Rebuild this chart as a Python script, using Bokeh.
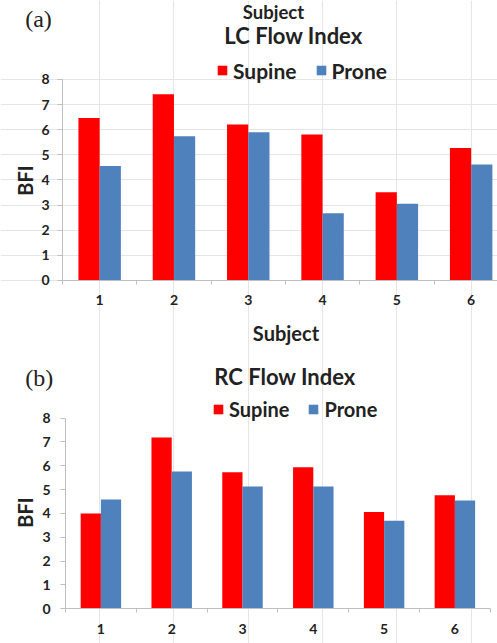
import math
from bokeh.plotting import figure
from bokeh.models import (ColumnDataSource, Range1d, FixedTicker, Label, Legend, LegendItem,
                          LinearAxis)
from bokeh.transform import dodge
from bokeh.embed import file_html
from bokeh.resources import INLINE

# ---------------- data ----------------
subjects = [1, 2, 3, 4, 5, 6]
subject_labels = ["1", "2", "3", "4", "5", "6"]
lc_supine = [6.47, 7.41, 6.21, 5.81, 3.51, 5.27]
lc_prone = [4.56, 5.74, 5.90, 2.68, 3.05, 4.62]
rc_supine = [4.00, 7.19, 5.73, 5.94, 4.06, 4.77]
rc_prone = [4.59, 5.76, 5.13, 5.13, 3.69, 4.55]
y_ticks = [0, 1, 2, 3, 4, 5, 6, 7, 8]
series_names = ["Supine", "Prone"]
series_colors = ["#FF0000", "#4F81BD"]

FONT = "Lato"
AXIS_GRAY = "#BFBFBF"
TEXT = "#222222"
BAR_W = 2 / 7

# One canvas holding both panels; panel (a) uses the default ranges,
# panel (b) uses the extra ranges named "b".
p = figure(width=497, height=643, output_backend="svg", toolbar_location=None,
           x_range=Range1d(-0.3345, 6.3546), y_range=Range1d(-14.448, 11.144),
           x_axis_location=None, y_axis_location=None,
           min_border=0, min_border_top=0, min_border_right=0,
           min_border_bottom=0, min_border_left=0)
p.extra_x_ranges = {"b": Range1d(-0.4181, 6.6017)}
p.extra_y_ranges = {"b": Range1d(-1.456, 25.527)}
p.outline_line_color = None
p.background_fill_color = "white"
p.border_fill_color = "white"


def add_panel(rn, supine, prone, tag, tag_pos, title, title_pos, ylabel_pos,
              legend_loc, legend_font, ytick_standoff, xtick_standoff,
              xlabel=None, xlabel_pos=None, extra=None):
    kw = {} if rn == "default" else dict(x_range_name=rn, y_range_name=rn)
    src = ColumnDataSource(dict(x=subjects, supine=supine, prone=prone))
    r1 = p.vbar(x=dodge("x", -BAR_W / 2), top="supine", width=BAR_W, source=src,
                fill_color=series_colors[0], line_color=None, **kw)
    r2 = p.vbar(x=dodge("x", BAR_W / 2), top="prone", width=BAR_W, source=src,
                fill_color=series_colors[1], line_color=None, **kw)

    ya = LinearAxis(fixed_location=subjects[0] - 0.5, bounds=(y_ticks[0], y_ticks[-1]), **kw)
    ya.ticker = FixedTicker(ticks=y_ticks, minor_ticks=[])
    ya.axis_line_color = AXIS_GRAY
    ya.major_tick_line_color = AXIS_GRAY
    ya.major_tick_out = 5
    ya.major_tick_in = 0
    ya.minor_tick_line_color = None
    ya.major_label_text_font = FONT
    ya.major_label_text_font_style = "bold"
    ya.major_label_text_font_size = "14px"
    ya.major_label_text_color = TEXT
    ya.major_label_standoff = ytick_standoff
    p.add_layout(ya, "left")

    xa = LinearAxis(fixed_location=y_ticks[0],
                    bounds=(subjects[0] - 0.5, subjects[-1] + 0.5), **kw)
    xa.ticker = FixedTicker(ticks=subjects,
                            minor_ticks=[s - 0.5 for s in subjects] + [subjects[-1] + 0.5])
    xa.major_label_overrides = {s: l for s, l in zip(subjects, subject_labels)}
    xa.axis_line_color = AXIS_GRAY
    xa.major_tick_line_color = None
    xa.major_tick_out = 0
    xa.major_tick_in = 0
    xa.minor_tick_line_color = AXIS_GRAY
    xa.minor_tick_out = 4
    xa.minor_tick_in = 0
    xa.major_label_text_font = FONT
    xa.major_label_text_font_style = "bold"
    xa.major_label_text_font_size = "14px"
    xa.major_label_text_color = TEXT
    xa.major_label_standoff = xtick_standoff
    p.add_layout(xa, "below")

    def lab(x, y, text, size, font=FONT, style="bold", angle=0):
        p.add_layout(Label(x=x, y=y, text=text, text_font=font, text_font_size=size,
                           text_font_style=style, text_color=TEXT, text_align="center",
                           text_baseline="middle", angle=angle, **kw))

    lab(tag_pos[0], tag_pos[1], tag, "24px", font="Liberation Serif", style="normal")
    lab(title_pos[0], title_pos[1], title, "22px")
    lab(ylabel_pos[0], ylabel_pos[1], "BFI", "20px", angle=math.pi / 2)
    if xlabel:
        lab(xlabel_pos[0], xlabel_pos[1], xlabel, "20px")
    if extra:
        lab(extra[0], extra[1], extra[2], extra[3])

    leg = Legend(items=[LegendItem(label=series_names[0], renderers=[r1]),
                        LegendItem(label=series_names[1], renderers=[r2])],
                 orientation="horizontal", location=legend_loc, padding=0, margin=0,
                 spacing=18, label_standoff=5, glyph_width=12, glyph_height=12,
                 label_height=12, border_line_color=None, background_fill_alpha=0,
                 label_text_font=FONT, label_text_font_size=legend_font,
                 label_text_font_style="bold", label_text_color=TEXT,
                 label_text_baseline="middle")
    p.add_layout(leg)


# panel (a): 74.3 px per subject, 25.125 px per BFI unit
add_panel("default", lc_supine, lc_prone,
          "(a)", (0.177, 10.408), "LC Flow Index", (3.609, 9.751),
          (-0.0114, 3.98), (216, 560.5), "21px", 8, 11,
          xlabel="Subject", xlabel_pos=(3.508, -2.07),
          extra=(3.340, 10.667, "Subject", "18.5px"))

# panel (b): 70.8 px per subject, 23.83 px per BFI unit
add_panel("b", rc_supine, rc_prone,
          "(b)", (0.1285, 9.706), "RC Flow Index", (3.600, 9.732),
          (-0.079, 4.04), (212, 222), "20px", 10, 11)

open("out.html", "w").write(file_html(p, INLINE))
